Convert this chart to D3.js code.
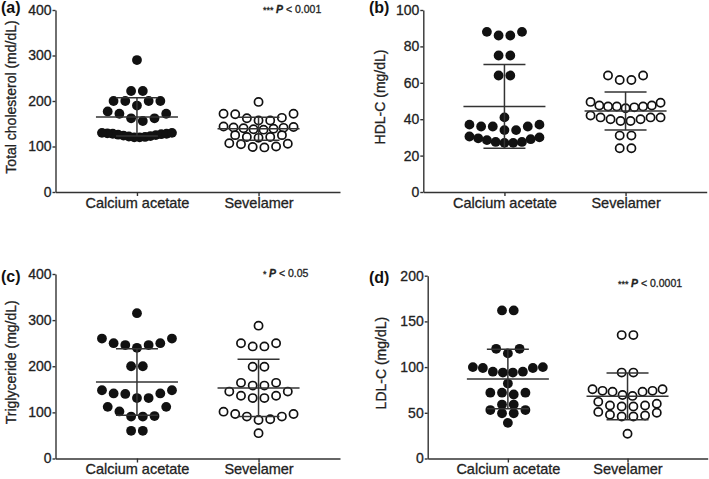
<!DOCTYPE html>
<html>
<head>
<meta charset="utf-8">
<script src="https://cdn.jsdelivr.net/npm/d3@7"></script>
<style>
  body { margin: 0; background: #fff; }
  svg { display: block; font-family: "Liberation Sans", Arial, sans-serif; }
</style>
</head>
<body>
<div id="chart"></div>
<script>
// groups on the x axis
const categories = ["Calcium acetate", "Sevelamer"];

// (a) total cholesterol, mg/dL
const tcCalcium = [290, 222, 222, 200, 200, 200, 200, 190, 177, 172, 172, 162, 162, 156,
  130, 130, 129, 128, 128, 127, 126, 125, 124, 123, 122, 121, 120, 120];
const tcSevelamer = [198, 172, 172, 171, 163, 162, 157, 157, 144, 143, 142, 141, 140, 139, 138, 137,
  125, 125, 121, 121, 119, 107, 106, 105, 100, 99, 98];
const tcMean = [165, 139];
const tcSD = [42, 25.5];
const tcTicks = [0, 100, 200, 300, 400];

// (b) HDL-C
const hdlCalcium = [88, 88, 86, 86, 75, 75, 64, 64, 41, 37, 37, 36, 36, 36, 34, 34,
  30.5, 30, 29.5, 29, 28.5, 27.5, 27.5, 27, 27];
const hdlSevelamer = [64, 64, 61.5, 61.5, 49.5, 49, 47.5, 47.5, 47, 47, 47, 46.5, 46,
  42, 41, 41, 41, 40, 40, 39, 39, 31, 31, 24, 24];
const hdlMean = [47, 44.5];
const hdlSD = [23, 10.5];
const hdlTicks = [0, 20, 40, 60, 80, 100];

// (c) triglyceride
const tgCalcium = [315, 260, 260, 250, 250, 246, 246, 240, 200, 200, 148, 148, 141, 141, 140, 131, 131,
  112, 112, 102, 92, 91, 91, 60, 60];
const tgSevelamer = [288, 250, 250, 243, 243, 199, 199, 164, 164, 158, 158, 145, 145, 136, 136, 131, 131,
  101.6, 96.6, 96.6, 90.8, 90.8, 85, 83.5, 55];
const tgMean = [166, 153];
const tgSD = [72, 62];
const tgTicks = [0, 100, 200, 300, 400];

// (d) LDL-C
const ldlCalcium = [162, 162, 120, 120, 115, 100, 100, 99, 99, 95, 95, 94, 94, 82,
  72, 72, 72, 70, 59, 59, 53, 53, 49.5, 49.5, 39];
const ldlSevelamer = [135, 135, 94, 94, 75.7, 75.7, 74, 74, 73, 73, 69.5, 68.5,
  62, 60, 58, 58, 57, 57, 51, 50, 48, 47, 46, 46, 27];
const ldlMean = [87, 68];
const ldlSD = [32.5, 25.5];
const ldlTicks = [0, 50, 100, 150, 200];

const width = 709, height = 479;
const GAP = 5;        // px between rows of dots
const STEP = 11.7;    // dot spacing inside a row
const MAX_SPAN = 70;  // widest a row may get

const panels = [
  { tag: "(a)", title: "Total cholesterol (md/dL)", ticks: tcTicks, series: [tcCalcium, tcSevelamer],
    mean: tcMean, sd: tcSD, stars: "***", pText: " < 0.001",
    x0: 55.5, x1: 340, top: 10, bottom: 192, titleX: 16, tagX: 1, tagY: 12.5, noteX: 263, noteY: 12.5 },
  { tag: "(b)", title: "HDL-C (mg/dL)", ticks: hdlTicks, series: [hdlCalcium, hdlSevelamer],
    mean: hdlMean, sd: hdlSD, stars: null,
    x0: 423.3, x1: 706.7, top: 10, bottom: 192, titleX: 385, tagX: 369, tagY: 12.5 },
  { tag: "(c)", title: "Triglyceride (mg/dL)", ticks: tgTicks, series: [tgCalcium, tgSevelamer],
    mean: tgMean, sd: tgSD, stars: "*", pText: " < 0.05",
    x0: 55.5, x1: 340, top: 274, bottom: 458.5, titleX: 16, tagX: 1, tagY: 281.5, noteX: 263, noteY: 277 },
  { tag: "(d)", title: "LDL-C (mg/dL)", ticks: ldlTicks, series: [ldlCalcium, ldlSevelamer],
    mean: ldlMean, sd: ldlSD, stars: "***", pText: " < 0.0001",
    x0: 427.7, x1: 707.7, top: 275.7, bottom: 458.5, titleX: 386, tagX: 369, tagY: 283, noteX: 618, noteY: 287 }
];

// prism-like scatter: group close values into rows, lowest values in the middle
function swarm(values, y) {
  const sorted = values.slice().sort((a, b) => b - a);
  const rows = [];
  let cur = [];
  sorted.forEach(v => {
    if (cur.length && y(v) - y(cur[cur.length - 1]) >= GAP) { rows.push(cur); cur = []; }
    cur.push(v);
  });
  if (cur.length) rows.push(cur);

  const out = [];
  rows.forEach(row => {
    const asc = row.slice().sort((a, b) => a - b);
    const n = asc.length;
    const step = n > 1 ? Math.min(STEP, MAX_SPAN / (n - 1)) : 0;
    asc.forEach((v, i) => {
      let slot;
      if (n % 2) slot = Math.ceil(i / 2) * (i % 2 ? 1 : -1);
      else slot = (Math.floor(i / 2) + 0.5) * (i % 2 ? -1 : 1);
      out.push({ v: v, dx: slot * step });
    });
  });
  return out;
}

const svg = d3.select("#chart").append("svg")
  .attr("width", width)
  .attr("height", height);

svg.append("rect").attr("width", width).attr("height", height).attr("fill", "#fff");

// the scanned figure has slightly heavy type, a thin outline mimics it
const heavy = sel => sel.attr("stroke", "#222").attr("stroke-width", 0.3);

panels.forEach(p => {
  const g = svg.append("g");
  const y = d3.scaleLinear().domain([0, d3.max(p.ticks)]).range([p.bottom, p.top]);
  const x = d3.scalePoint().domain(categories).range([p.x0, p.x1]).padding(0.67);

  // axes
  const yAxis = g.append("g")
    .attr("transform", `translate(${p.x0},0)`)
    .call(d3.axisLeft(y).tickValues(p.ticks).tickSize(3).tickSizeOuter(0).tickPadding(1));
  const xAxis = g.append("g")
    .attr("transform", `translate(0,${p.bottom})`)
    .call(d3.axisBottom(x).tickSize(4).tickSizeOuter(0).tickPadding(1.5));

  [yAxis, xAxis].forEach(a => {
    a.select(".domain").attr("stroke", "#333").attr("stroke-width", 1.4);
    a.selectAll(".tick line").attr("stroke", "#333").attr("stroke-width", 1.4);
    a.selectAll(".tick text").attr("fill", "#222").attr("font-family", null).call(heavy);
  });
  yAxis.selectAll(".tick text").attr("font-size", "14px");
  xAxis.selectAll(".tick text").attr("font-size", "14.5px");

  // y title
  g.append("text")
    .attr("transform", `translate(${p.titleX},${(p.top + p.bottom) / 2 - 4}) rotate(-90)`)
    .attr("text-anchor", "middle")
    .attr("font-size", "14px")
    .attr("fill", "#222")
    .call(heavy)
    .text(p.title);

  // panel tag
  g.append("text")
    .attr("x", p.tagX).attr("y", p.tagY)
    .attr("font-size", "16px").attr("font-weight", "bold")
    .attr("fill", "#111")
    .text(p.tag);

  // significance note
  if (p.stars) {
    const t = g.append("text")
      .attr("x", p.noteX).attr("y", p.noteY)
      .attr("font-size", "10.5px").attr("fill", "#222")
      .call(heavy);
    t.append("tspan").attr("font-size", "9px").text(p.stars + " ");
    t.append("tspan").attr("font-style", "italic").attr("font-weight", "bold").text("P");
    t.append("tspan").text(p.pText);
  }

  // dots
  p.series.forEach((vals, i) => {
    const cx = x(categories[i]);
    const pts = swarm(vals, y);
    g.append("g").selectAll("circle")
      .data(pts)
      .enter()
      .append("circle")
      .attr("cx", d => cx + d.dx)
      .attr("cy", d => y(d.v))
      .attr("r", i === 0 ? 4.9 : 4.1)
      .attr("fill", i === 0 ? "#111" : "#fff")
      .attr("stroke", "#111")
      .attr("stroke-width", i === 0 ? 0 : 1.7);

    // mean and SD
    const m = p.mean[i], s = p.sd[i];
    const bars = g.append("g").attr("stroke", "#333").attr("stroke-width", 1.5);
    bars.append("line").attr("x1", cx - 41).attr("x2", cx + 41).attr("y1", y(m)).attr("y2", y(m));
    bars.append("line").attr("x1", cx).attr("x2", cx).attr("y1", y(m + s)).attr("y2", y(m - s));
    [m + s, m - s].forEach(v => {
      bars.append("line").attr("x1", cx - 21).attr("x2", cx + 21).attr("y1", y(v)).attr("y2", y(v));
    });
  });
});
</script>
</body>
</html>
